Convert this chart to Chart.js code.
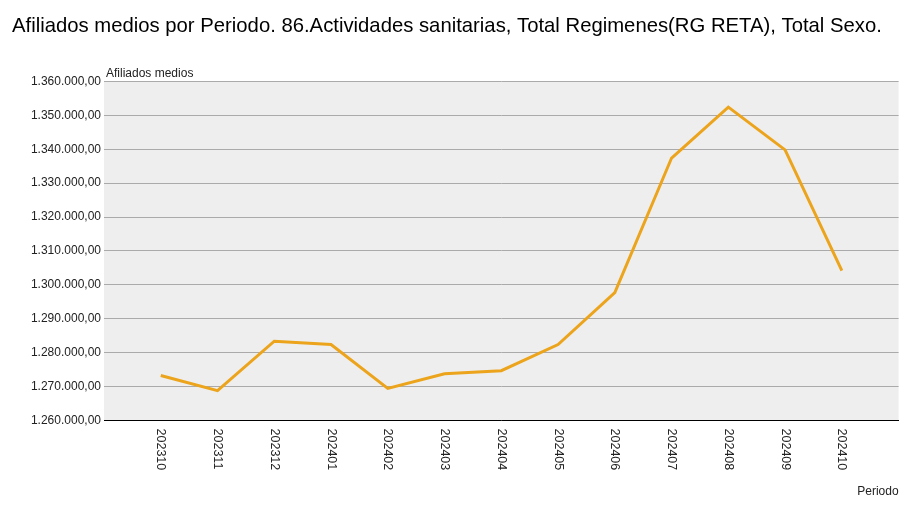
<!DOCTYPE html>
<html>
<head>
<meta charset="utf-8">
<script src="https://cdn.jsdelivr.net/npm/chart.js@4"></script>
<style>
html,body{margin:0;padding:0;background:#fff;}
canvas{display:block;}
</style>
</head>
<body>
<canvas id="c" width="921" height="507"></canvas>
<script>
const categories = ['202310','202311','202312','202401','202402','202403','202404','202405','202406','202407','202408','202409','202410'];
const afiliados = [1273300,1268800,1283400,1282400,1269500,1273800,1274700,1282400,1297700,1337400,1352400,1339800,1304200];
const yMin = 1260000, yMax = 1360000, yStep = 10000;
const titleText = 'Afiliados medios por Periodo. 86.Actividades sanitarias, Total Regimenes(RG RETA), Total Sexo.';
const yAxisLabel = 'Afiliados medios';
const xAxisLabel = 'Periodo';

const FONT = '"Liberation Sans", Arial, sans-serif';

function fmtEs(v){
  const parts = Math.round(v).toString().replace(/\B(?=(\d{3})+(?!\d))/g, '.');
  return parts + ',00';
}

const customPlugin = {
  id: 'custom',
  beforeDraw(chart){
    const {ctx, chartArea:a} = chart;
    ctx.save();
    ctx.fillStyle = '#eeeeee';
    ctx.fillRect(a.left, a.top, a.right - a.left, a.bottom - a.top);
    ctx.restore();
  },
  afterDraw(chart){
    const {ctx, chartArea:a} = chart;
    const xs = chart.scales.x;
    ctx.save();
    ctx.fillStyle = '#222';
    ctx.font = '12.5px ' + FONT;
    ctx.textAlign = 'left';
    ctx.textBaseline = 'middle';
    categories.forEach((lab, i) => {
      const x = xs.getPixelForValue(i);
      ctx.save();
      ctx.translate(x, a.bottom + 8);
      ctx.rotate(Math.PI / 2);
      ctx.fillText(lab, 0, 0);
      ctx.restore();
    });
    ctx.font = '12px ' + FONT;
    ctx.textBaseline = 'alphabetic';
    ctx.fillText(yAxisLabel, a.left + 2, a.top - 4);
    ctx.restore();
  }
};

new Chart(document.getElementById('c'), {
  type: 'line',
  data: {
    datasets: [{
      data: afiliados.map((v, i) => ({x: i, y: v})),
      borderColor: '#eca41c',
      borderWidth: 3,
      pointRadius: 0,
      tension: 0,
      fill: false
    }]
  },
  options: {
    responsive: false,
    animation: false,
    layout: {padding: {left: 12, right: 19, top: 0, bottom: 8}},
    plugins: {
      legend: {display: false},
      tooltip: {enabled: false},
      title: {
        display: true,
        text: titleText,
        align: 'start',
        color: '#000',
        font: {family: FONT, size: 20.3, weight: 'normal'},
        padding: {top: 14, bottom: 43}
      }
    },
    scales: {
      x: {
        type: 'linear',
        min: -1,
        max: 13,
        grid: {display: false, drawTicks: false},
        border: {display: true, color: '#000', width: 1},
        ticks: {
          stepSize: 1,
          autoSkip: false,
          minRotation: 90,
          maxRotation: 90,
          padding: 8,
          color: 'rgba(0,0,0,0)',
          font: {family: FONT, size: 12},
          callback: (v) => (categories[v] !== undefined ? categories[v] : '')
        },
        title: {
          display: true,
          text: xAxisLabel,
          align: 'end',
          color: '#222',
          font: {family: FONT, size: 12},
          padding: {top: 8, bottom: 0}
        }
      },
      y: {
        min: yMin,
        max: yMax,
        grid: {color: '#aaaaaa', lineWidth: 1, drawTicks: false},
        border: {display: false},
        ticks: {
          stepSize: yStep,
          padding: 3,
          color: '#222',
          font: {family: FONT, size: 12},
          callback: (v) => fmtEs(v)
        },
        afterFit(scale){ scale.width = 92; }
      }
    }
  },
  plugins: [customPlugin]
});
</script>
</body>
</html>
